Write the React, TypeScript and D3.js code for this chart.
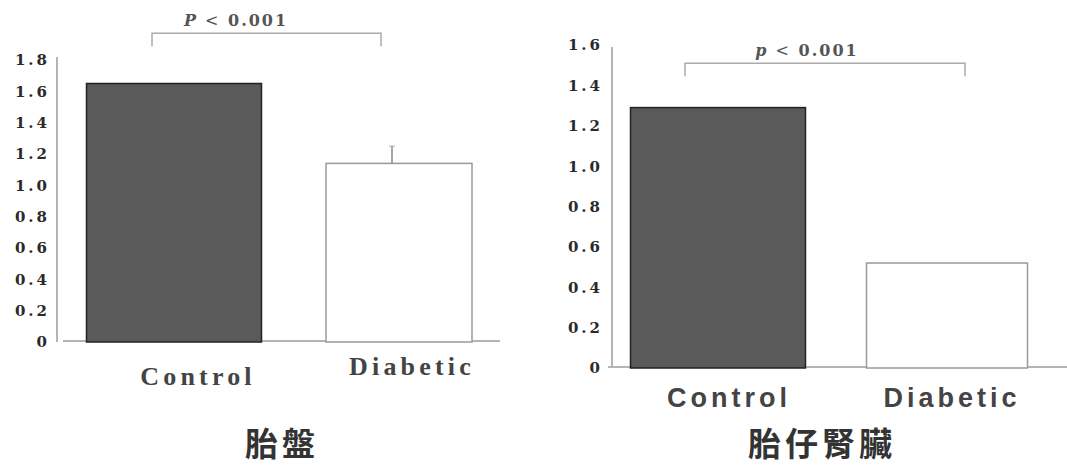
import React, { useEffect, useRef } from 'react';
import * as d3 from 'd3';

// values
const categories = ['Control', 'Diabetic'];
const placentaValues = [1.65, 1.14];
const placentaErrors = [0, 0.11];
const placentaTicks = [0, 0.2, 0.4, 0.6, 0.8, 1.0, 1.2, 1.4, 1.6, 1.8];
const kidneyValues = [1.29, 0.52];
const kidneyErrors = [0, 0];
const kidneyTicks = [0, 0.2, 0.4, 0.6, 0.8, 1.0, 1.2, 1.4, 1.6];
const titles = ['胎盤', '胎仔腎臟'];
const pLabels = ['P < 0.001', 'p < 0.001'];
const bracketLevels = [1.97, 1.51];

const W = 1067;
const H = 467;

const panels = [
  {
    values: placentaValues,
    errors: placentaErrors,
    ticks: placentaTicks,
    title: titles[0],
    pLabel: pLabels[0],
    bracket: bracketLevels[0],
    yRange: [342, 60],
    yDomainMax: 1.8,
    centers: [174, 399],
    barWidths: [175, 146],
    axisX: 57,
    axisTop: 57,
    baseX: [63, 500],
    tickX: 50,
    bracketX: [152, 381],
    pX: 236,
    labelFont: '"Liberation Serif", serif',
    labelSize: 26,
    labelSpacing: 4.2,
    labelDx: [24, 13],
    labelY: [385, 375],
    titleX: 282,
  },
  {
    values: kidneyValues,
    errors: kidneyErrors,
    ticks: kidneyTicks,
    title: titles[1],
    pLabel: pLabels[1],
    bracket: bracketLevels[1],
    yRange: [368, 45],
    yDomainMax: 1.6,
    centers: [718, 947],
    barWidths: [175, 161],
    axisX: 612,
    axisTop: 47,
    baseX: [608, 1067],
    tickX: 603,
    bracketX: [685, 965],
    pX: 807,
    labelFont: '"Liberation Sans", Arial, sans-serif',
    labelSize: 27,
    labelSpacing: 4,
    labelDx: [11, 5],
    labelY: [407, 407],
    titleX: 822,
  },
];

const App = () => {
  const chartRef = useRef(null);

  useEffect(() => {
    const svg = d3.select(chartRef.current);
    svg.selectAll('*').remove();

    svg.append('rect').attr('width', W).attr('height', H).style('fill', 'white');

    panels.forEach((p) => {
      const g = svg.append('g');

      const y = d3.scaleLinear().domain([0, p.yDomainMax]).range(p.yRange);
      const x = d3.scalePoint().domain(categories).range(p.centers);

      // axis lines
      g.append('line')
        .attr('x1', p.axisX).attr('x2', p.axisX)
        .attr('y1', p.axisTop).attr('y2', y(0))
        .style('stroke', '#b5b5b5').style('stroke-width', 2);

      g.append('line')
        .attr('x1', p.baseX[0]).attr('x2', p.baseX[1])
        .attr('y1', y(0) - 1).attr('y2', y(0) - 1)
        .style('stroke', '#b5b5b5').style('stroke-width', 2);

      // tick labels
      g.selectAll('.tick')
        .data(p.ticks)
        .enter().append('text')
        .attr('x', p.tickX)
        .attr('y', d => y(d))
        .attr('dy', '0.36em')
        .style('text-anchor', 'end')
        .style('font-family', '"DejaVu Serif", serif')
        .style('font-weight', 'bold')
        .style('font-size', '15px')
        .style('letter-spacing', '3px')
        .style('fill', '#2a2a2a')
        .text(d => (d === 0 ? '0' : d.toFixed(1)));

      // bars
      g.selectAll('.bar')
        .data(p.values)
        .enter().append('rect')
        .attr('x', (d, i) => x(categories[i]) - p.barWidths[i] / 2)
        .attr('width', (d, i) => p.barWidths[i])
        .attr('y', d => y(d))
        .attr('height', d => y(0) - y(d))
        .style('fill', (d, i) => (i === 0 ? '#5a5a5a' : 'white'))
        .style('stroke', (d, i) => (i === 0 ? '#222' : '#9a9a9a'))
        .style('stroke-width', 1.5);

      // error bars (upper only)
      p.values.forEach((v, i) => {
        if (!p.errors[i]) return;
        const cx = x(categories[i]) - 7;
        g.append('line')
          .attr('x1', cx).attr('x2', cx)
          .attr('y1', y(v)).attr('y2', y(v + p.errors[i]))
          .style('stroke', '#888').style('stroke-width', 1.5);
        g.append('line')
          .attr('x1', cx - 3).attr('x2', cx + 3)
          .attr('y1', y(v + p.errors[i])).attr('y2', y(v + p.errors[i]))
          .style('stroke', '#aaa').style('stroke-width', 1);
      });

      // category labels
      g.selectAll('.cat')
        .data(categories)
        .enter().append('text')
        .attr('x', (d, i) => x(d) + p.labelDx[i])
        .attr('y', (d, i) => p.labelY[i])
        .style('text-anchor', 'middle')
        .style('font-family', p.labelFont)
        .style('font-weight', 'bold')
        .style('font-size', `${p.labelSize}px`)
        .style('letter-spacing', `${p.labelSpacing}px`)
        .style('fill', '#444')
        .text(d => d);

      // significance bracket
      const by = y(p.bracket);
      g.append('path')
        .attr('d', `M${p.bracketX[0]},${by + 13}V${by}H${p.bracketX[1]}V${by + 13}`)
        .style('fill', 'none')
        .style('stroke', '#aaa')
        .style('stroke-width', 1.5);

      g.append('text')
        .attr('x', p.pX)
        .attr('y', by - 7)
        .style('text-anchor', 'middle')
        .style('font-family', '"DejaVu Serif", serif')
        .style('font-size', '16px')
        .style('letter-spacing', '2px')
        .style('fill', '#555')
        .call(t => {
          t.append('tspan').style('font-style', 'italic').style('font-weight', 'bold').text(p.pLabel[0]);
          t.append('tspan').text(p.pLabel.slice(1, 3));
          t.append('tspan').style('font-weight', 'bold').text(p.pLabel.slice(3));
        });

      // panel title
      g.append('text')
        .attr('x', p.titleX)
        .attr('y', 456)
        .style('text-anchor', 'middle')
        .style('font-family', '"Noto Sans CJK TC", "Noto Sans CJK SC", sans-serif')
        .style('font-weight', 'bold')
        .style('font-size', '33px')
        .style('letter-spacing', '4px')
        .style('fill', '#333')
        .text(p.title);
    });
  }, []);

  return (
    <svg
      ref={chartRef}
      width={W}
      height={H}
      style={{ position: 'absolute', left: 0, top: 0, display: 'block' }}
    ></svg>
  );
};

export default App;
